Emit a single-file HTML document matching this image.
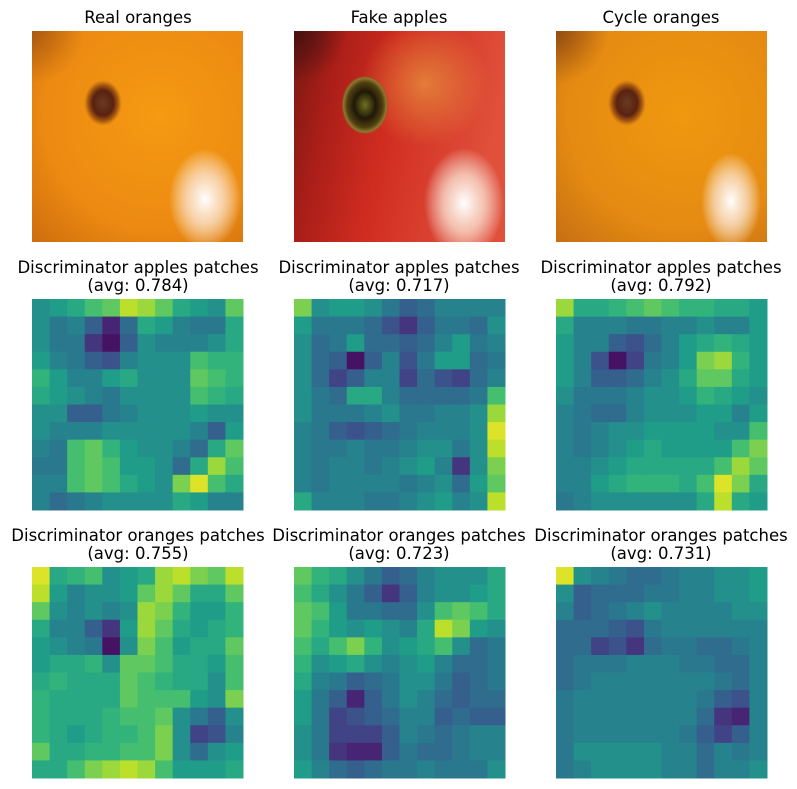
<!DOCTYPE html>
<html><head><meta charset="utf-8"><style>
body{margin:0;background:#fff;width:797px;height:789px;overflow:hidden}
svg{display:block}
text{font-family:"DejaVu Sans","Liberation Sans",sans-serif;font-size:16.5px;fill:#000}
</style></head><body>
<svg id="fig" width="797" height="789">
<defs>
<radialGradient id="orBase" cx="0.6" cy="0.4" r="0.9">
<stop offset="0" stop-color="#f59a12"/><stop offset="0.6" stop-color="#ec8a12"/><stop offset="1" stop-color="#c8680c"/></radialGradient>
<radialGradient id="orCyc" cx="0.6" cy="0.4" r="0.9">
<stop offset="0" stop-color="#f0980f"/><stop offset="0.6" stop-color="#e58a12"/><stop offset="1" stop-color="#c06a14"/></radialGradient>
<linearGradient id="apBase" x1="0" y1="0" x2="1" y2="0.2">
<stop offset="0" stop-color="#7a1812"/><stop offset="0.2" stop-color="#a81e18"/><stop offset="0.5" stop-color="#d02c20"/><stop offset="1" stop-color="#e0503a"/></linearGradient>
<radialGradient id="apWarm" cx="0.62" cy="0.25" r="0.3">
<stop offset="0" stop-color="#e89a40" stop-opacity="0.7"/><stop offset="1" stop-color="#e89a40" stop-opacity="0"/></radialGradient>
<radialGradient id="hl" cx="0.5" cy="0.5" r="0.5">
<stop offset="0" stop-color="#ffffff"/><stop offset="0.5" stop-color="#fbe8d8" stop-opacity="0.75"/><stop offset="1" stop-color="#ffffff" stop-opacity="0"/></radialGradient>
<radialGradient id="spot" cx="0.5" cy="0.5" r="0.5">
<stop offset="0" stop-color="#6a3a20"/><stop offset="0.55" stop-color="#5a2210"/><stop offset="0.8" stop-color="#a85a10"/><stop offset="1" stop-color="#c06a10" stop-opacity="0"/></radialGradient>
<radialGradient id="spotA" cx="0.5" cy="0.5" r="0.5">
<stop offset="0" stop-color="#707020"/><stop offset="0.45" stop-color="#201808"/><stop offset="0.75" stop-color="#504010"/><stop offset="0.9" stop-color="#907a30"/><stop offset="1" stop-color="#a03020" stop-opacity="0"/></radialGradient>
<radialGradient id="darkTL" cx="0" cy="0" r="0.25">
<stop offset="0" stop-color="#401010" stop-opacity="0.9"/><stop offset="1" stop-color="#401010" stop-opacity="0"/></radialGradient>
</defs>

<text x="138" y="23" text-anchor="middle">Real oranges</text>
<text x="399" y="23" text-anchor="middle">Fake apples</text>
<text x="661" y="23" text-anchor="middle">Cycle oranges</text>

<g transform="translate(32,31)">
<rect width="211" height="211" fill="url(#orBase)"/>
<rect width="211" height="211" fill="url(#darkTL)" opacity="0.35"/>
<ellipse cx="71" cy="72" rx="19" ry="23" fill="url(#spot)"/>
<ellipse cx="173" cy="168" rx="36" ry="50" fill="url(#hl)"/>
</g>
<g transform="translate(294,31)">
<rect width="211" height="211" fill="url(#apBase)"/>
<rect width="211" height="211" fill="url(#apWarm)"/>
<rect width="211" height="211" fill="url(#darkTL)"/>
<ellipse cx="71" cy="74" rx="24" ry="30" fill="url(#spotA)"/>
<ellipse cx="170" cy="172" rx="40" ry="55" fill="url(#hl)"/>
</g>
<g transform="translate(556,31)">
<rect width="211" height="211" fill="url(#orCyc)"/>
<rect width="211" height="211" fill="url(#darkTL)" opacity="0.5"/>
<ellipse cx="71" cy="72" rx="19" ry="23" fill="url(#spot)"/>
<ellipse cx="175" cy="170" rx="30" ry="48" fill="url(#hl)"/>
</g>

<text x="138" y="273" text-anchor="middle">Discriminator apples patches</text>
<text x="138" y="291" text-anchor="middle">(avg: 0.784)</text>
<text x="399" y="273" text-anchor="middle">Discriminator apples patches</text>
<text x="399" y="291" text-anchor="middle">(avg: 0.717)</text>
<text x="661" y="273" text-anchor="middle">Discriminator apples patches</text>
<text x="661" y="291" text-anchor="middle">(avg: 0.792)</text>
<text x="138" y="541" text-anchor="middle">Discriminator oranges patches</text>
<text x="138" y="559" text-anchor="middle">(avg: 0.755)</text>
<text x="399" y="541" text-anchor="middle">Discriminator oranges patches</text>
<text x="399" y="559" text-anchor="middle">(avg: 0.723)</text>
<text x="661" y="541" text-anchor="middle">Discriminator oranges patches</text>
<text x="661" y="559" text-anchor="middle">(avg: 0.731)</text>
<g id="maps"></g>
</svg>
<script>
const heatApples1 = [
[.5,.55,.6,.7,.75,.9,.85,.75,.6,.55,.5,.75],
[.5,.4,.45,.3,.1,.35,.6,.55,.45,.4,.4,.6],
[.5,.4,.4,.15,.05,.3,.5,.45,.45,.45,.5,.6],
[.55,.45,.4,.3,.25,.45,.5,.5,.5,.7,.65,.65],
[.65,.55,.45,.45,.55,.6,.5,.5,.5,.75,.7,.65],
[.6,.55,.5,.45,.4,.5,.5,.5,.5,.7,.65,.6],
[.5,.5,.3,.3,.4,.45,.5,.5,.5,.55,.5,.5],
[.5,.45,.45,.45,.5,.5,.5,.5,.5,.45,.3,.55],
[.45,.4,.7,.75,.65,.55,.5,.5,.45,.35,.6,.75],
[.4,.4,.7,.75,.7,.55,.55,.5,.35,.6,.85,.7],
[.45,.45,.7,.75,.7,.6,.55,.5,.8,.95,.7,.6],
[.45,.35,.4,.45,.5,.5,.5,.5,.6,.55,.45,.45]];
const heatApples2 = [
[.8,.5,.55,.55,.5,.4,.3,.35,.45,.45,.45,.45],
[.55,.4,.4,.4,.35,.25,.15,.3,.4,.4,.35,.5],
[.5,.35,.4,.55,.35,.35,.3,.35,.45,.55,.4,.45],
[.5,.35,.3,.05,.3,.45,.25,.4,.55,.55,.35,.4],
[.5,.35,.2,.3,.45,.45,.2,.35,.25,.2,.35,.45],
[.5,.4,.35,.6,.6,.45,.35,.35,.35,.35,.4,.7],
[.5,.4,.4,.4,.45,.5,.4,.4,.45,.45,.5,.85],
[.45,.4,.3,.25,.3,.35,.4,.45,.45,.45,.5,.95],
[.45,.4,.4,.45,.4,.4,.45,.5,.5,.4,.5,.9],
[.45,.4,.45,.45,.4,.45,.5,.55,.45,.15,.5,.8],
[.45,.4,.45,.45,.45,.45,.4,.45,.5,.35,.55,.75],
[.6,.45,.45,.45,.4,.4,.45,.5,.55,.45,.5,.9]];
const heatApples3 = [
[.85,.6,.6,.65,.7,.75,.7,.65,.65,.6,.6,.55],
[.6,.45,.45,.45,.4,.4,.45,.45,.5,.45,.45,.55],
[.55,.45,.45,.3,.25,.35,.45,.55,.6,.65,.6,.55],
[.55,.45,.25,.05,.2,.4,.45,.55,.8,.85,.65,.55],
[.55,.45,.3,.3,.35,.45,.5,.6,.75,.75,.6,.55],
[.5,.4,.4,.4,.45,.5,.5,.55,.65,.6,.55,.5],
[.45,.4,.35,.35,.45,.5,.5,.5,.55,.55,.45,.55],
[.45,.4,.45,.5,.5,.55,.55,.55,.55,.5,.5,.7],
[.45,.4,.45,.5,.55,.6,.55,.55,.55,.55,.7,.8],
[.45,.45,.5,.55,.6,.6,.6,.6,.6,.7,.85,.75],
[.45,.45,.55,.6,.65,.65,.65,.6,.7,.95,.8,.6],
[.4,.45,.5,.5,.5,.5,.5,.5,.6,.9,.6,.55]];
const heatOranges1 = [
[.95,.6,.65,.7,.5,.55,.6,.85,.9,.8,.75,.9],
[.9,.55,.45,.5,.5,.55,.75,.85,.75,.6,.6,.75],
[.75,.5,.45,.5,.45,.5,.85,.8,.65,.55,.55,.65],
[.6,.45,.45,.3,.15,.55,.85,.75,.6,.55,.6,.65],
[.55,.5,.45,.4,.05,.5,.8,.7,.55,.6,.6,.75],
[.55,.6,.6,.65,.5,.75,.75,.7,.6,.6,.55,.7],
[.6,.65,.6,.6,.6,.75,.7,.65,.6,.6,.5,.7],
[.65,.6,.6,.6,.6,.75,.7,.7,.7,.55,.5,.8],
[.65,.6,.6,.6,.65,.7,.7,.75,.5,.4,.3,.5],
[.65,.6,.55,.6,.65,.65,.7,.8,.5,.2,.25,.45],
[.75,.6,.6,.65,.65,.7,.7,.8,.5,.35,.5,.55],
[.6,.6,.7,.8,.85,.9,.85,.7,.55,.55,.55,.6]];
const heatOranges2 = [
[.75,.65,.6,.5,.4,.3,.35,.45,.5,.5,.5,.6],
[.7,.6,.5,.4,.3,.15,.3,.45,.5,.5,.55,.6],
[.75,.7,.55,.4,.4,.35,.35,.5,.7,.75,.7,.6],
[.75,.65,.55,.5,.55,.5,.45,.6,.9,.8,.55,.5],
[.7,.6,.7,.8,.65,.5,.55,.6,.7,.5,.35,.4],
[.65,.5,.55,.6,.5,.45,.5,.55,.45,.35,.35,.4],
[.6,.45,.4,.3,.35,.4,.5,.5,.4,.3,.35,.4],
[.55,.4,.3,.1,.3,.4,.5,.45,.35,.3,.35,.35],
[.55,.4,.2,.25,.3,.35,.45,.45,.3,.35,.3,.3],
[.5,.4,.2,.2,.2,.3,.45,.4,.35,.4,.45,.45],
[.5,.4,.15,.1,.1,.3,.4,.35,.35,.4,.45,.45],
[.55,.45,.35,.3,.35,.4,.4,.45,.4,.4,.4,.5]];
const heatOranges3 = [
[.95,.5,.45,.4,.35,.35,.4,.45,.45,.5,.5,.55],
[.5,.3,.35,.35,.35,.4,.4,.45,.45,.5,.5,.55],
[.45,.3,.35,.4,.45,.5,.45,.45,.45,.45,.5,.5],
[.35,.35,.35,.3,.25,.4,.45,.45,.45,.45,.45,.45],
[.35,.35,.2,.25,.15,.35,.4,.4,.35,.35,.4,.45],
[.35,.4,.4,.4,.45,.45,.45,.4,.4,.35,.35,.45],
[.35,.4,.45,.45,.45,.45,.45,.45,.45,.4,.35,.45],
[.4,.45,.45,.45,.45,.45,.45,.45,.4,.3,.25,.45],
[.4,.45,.45,.45,.45,.45,.45,.45,.35,.15,.1,.45],
[.4,.45,.45,.45,.45,.45,.45,.4,.3,.2,.3,.45],
[.4,.5,.5,.5,.5,.5,.45,.45,.35,.45,.4,.45],
[.4,.45,.5,.5,.5,.5,.45,.45,.35,.45,.45,.5]];

const vir=[[68,1,84],[72,40,120],[62,74,137],[49,104,142],[38,130,142],[31,158,137],[53,183,121],[109,205,89],[180,222,44],[253,231,37]];
function viridis(v){v=Math.max(0,Math.min(1,v));const p=v*9,i=Math.min(8,Math.floor(p)),f=p-i;
const c=vir[i].map((a,k)=>Math.round(a+(vir[i+1][k]-a)*f));return `rgb(${c[0]},${c[1]},${c[2]})`;}
const NS='http://www.w3.org/2000/svg';
const maps=document.getElementById('maps');
const panels=[[heatApples1,32,299,'apples-heatmap-1'],[heatApples2,294,299,'apples-heatmap-2'],[heatApples3,556,299,'apples-heatmap-3'],
[heatOranges1,32,567,'oranges-heatmap-1'],[heatOranges2,294,567,'oranges-heatmap-2'],[heatOranges3,556,567,'oranges-heatmap-3']];
panels.forEach(([d,x0,y0,nm])=>{
 const g=document.createElementNS(NS,'g');
 
 
 const n=d.length,cs=211/n;
 const xs=c=>x0+c*cs, ys=r=>y0+r*cs;
 d.forEach((row,r)=>row.forEach((v,c)=>{
  const rc=document.createElementNS(NS,'rect');
  rc.setAttribute('x',xs(c));rc.setAttribute('y',ys(r));
  rc.setAttribute('width',cs+0.5);rc.setAttribute('height',cs+0.5);
  rc.setAttribute('fill',viridis(v));
  
  
  g.appendChild(rc);
 }));
 maps.appendChild(g);
});
</script>
</body></html>
